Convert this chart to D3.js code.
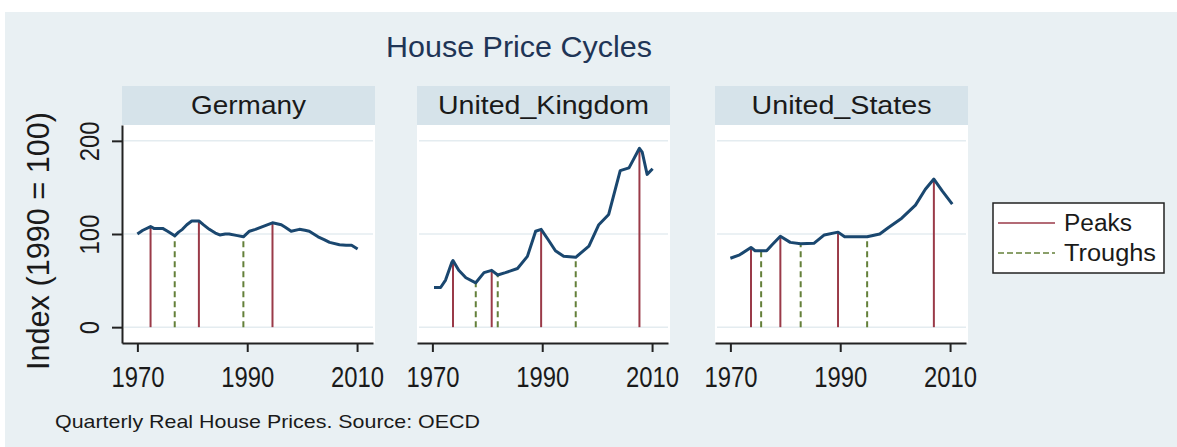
<!DOCTYPE html>
<html>
<head>
<meta charset="utf-8">
<script src="https://cdn.jsdelivr.net/npm/d3@7"></script>
<style>
body { margin: 0; background: #fff; }
text { font-family: "Liberation Sans", Arial, sans-serif; fill: #1a1a1a; }
</style>
</head>
<body>
<script>
// House price index, 1990 = 100
var countries = ["Germany", "United_Kingdom", "United_States"];

var deYears = [1970, 1971, 1972.4, 1973, 1974.6, 1975.5, 1976.8, 1977.5, 1978.2, 1979, 1979.9, 1981.2, 1982, 1983.1, 1984.2, 1985,
               1986, 1986.7, 1988, 1989.3, 1990.4, 1991.5, 1992.8, 1994.6, 1996.2, 1997, 1998, 1999.5, 2000.5, 2001.3, 2002.9,
               2004, 2005, 2006.8, 2008, 2009, 2010.1];
var deIndex = [100, 104, 108, 106, 106, 103, 98, 102, 105, 110, 114, 114, 110, 105, 101, 99,
               100, 100, 98.5, 97, 103, 105, 108, 112, 110, 107, 103, 105, 104, 103, 97,
               94, 91, 88.5, 88, 88, 84];

var ukYears = [1970.3, 1971.5, 1972.4, 1973.5, 1973.75, 1974.8, 1976.1, 1977.9, 1979.4, 1980.8, 1981.9, 1983.3, 1985.5,
               1987.3, 1988.8, 1989.8, 1991, 1992.4, 1993.9, 1996.1, 1998.5, 2000.3, 2002.1, 2003.3, 2004.2, 2005.8,
               2007.7, 2008.2, 2009.1, 2010.1];
var ukIndex = [42.6, 42.6, 50.5, 69, 71.5, 61, 53, 47.6, 58.5, 61, 56, 58.5, 63,
               76, 103, 105, 94.6, 82, 76, 75, 87, 110, 121, 148, 168, 171,
               192, 188, 164, 170];

var usYears = [1970, 1971.7, 1973.75, 1974.5, 1975.6, 1976.6, 1977.6, 1979.1, 1980.9, 1982.8, 1985.2, 1987.1, 1989.6,
               1990.8, 1994.9, 1997.2, 1998.8, 2001.2, 2003.7, 2005.5, 2007.05, 2008.6, 2010.4];
var usIndex = [74, 77.6, 85.6, 82, 82, 82, 88.4, 97.5, 91, 89.5, 90, 99, 102,
               97, 97, 100, 107, 117, 131, 148, 159, 146, 132];

var dePeaks = [1972.4, 1981.2, 1994.6];
var deTroughs = [1976.8, 1989.3];
var ukPeaks = [1973.75, 1980.8, 1989.8, 2007.7];
var ukTroughs = [1977.9, 1981.9, 1996.1];
var usPeaks = [1973.75, 1979.1, 1989.6, 2007.05];
var usTroughs = [1975.6, 1982.8, 1994.9];

var xTicks = [1970, 1990, 2010];
var yTicks = [0, 100, 200];

var panels = [
  { name: countries[0], years: deYears, values: deIndex, peaks: dePeaks, troughs: deTroughs },
  { name: countries[1], years: ukYears, values: ukIndex, peaks: ukPeaks, troughs: ukTroughs },
  { name: countries[2], years: usYears, values: usIndex, peaks: usPeaks, troughs: usTroughs }
];

// Settings
var w = 1177, h = 447;
var panelLeft = [122, 417, 715];
var plotW = 253, plotH = 218, plotTop = 125;
var stripTop = 86, stripH = 39;

var navy = "#1a476f", maroon = "#9a3a48", olive = "#64803a";

var svg = d3.select("body").append("svg")
  .attr("width", w)
  .attr("height", h);

// graph region
svg.append("rect")
  .attr("x", 5).attr("y", 12)
  .attr("width", w - 5).attr("height", h - 12)
  .attr("fill", "#e9f0f3");

svg.append("text")
  .attr("x", 519).attr("y", 57)
  .attr("text-anchor", "middle")
  .attr("font-size", 29)
  .attr("textLength", 266).attr("lengthAdjust", "spacingAndGlyphs")
  .style("fill", "#1f3556")
  .text("House Price Cycles");

var x = d3.scaleLinear().domain([1967.2, 2012.9]).range([0, 251]);
var y = d3.scaleLinear().domain([-17, 217]).range([plotH, 0]);

// value of a series at a given year (between read points)
function valueAt(p, yr) {
  var i = d3.bisectLeft(p.years, yr);
  if (i <= 0) return p.values[0];
  if (i >= p.years.length) return p.values[p.values.length - 1];
  var t = (yr - p.years[i - 1]) / (p.years[i] - p.years[i - 1]);
  return p.values[i - 1] + t * (p.values[i] - p.values[i - 1]);
}

var line = d3.line()
  .x(function(d) { return x(d[0]); })
  .y(function(d) { return y(d[1]); });

panels.forEach(function(p, k) {
  var left = panelLeft[k];

  // strip label
  svg.append("rect")
    .attr("x", left).attr("y", stripTop)
    .attr("width", plotW).attr("height", stripH)
    .attr("fill", "#d6e3ea");
  svg.append("text")
    .attr("x", left + plotW / 2).attr("y", stripTop + 28)
    .attr("text-anchor", "middle")
    .attr("font-size", 25)
    .attr("textLength", [115, 211, 180][k]).attr("lengthAdjust", "spacingAndGlyphs")
    .text(p.name);

  var g = svg.append("g").attr("transform", "translate(" + left + "," + plotTop + ")");

  g.append("rect")
    .attr("x", 0).attr("y", 0)
    .attr("width", plotW).attr("height", plotH)
    .attr("fill", "#fff");

  // grid
  g.selectAll("line.grid")
    .data(yTicks)
    .enter()
    .append("line")
    .attr("class", "grid")
    .attr("x1", 2).attr("x2", plotW - 2)
    .attr("y1", function(d) { return y(d); })
    .attr("y2", function(d) { return y(d); })
    .attr("stroke", "#e4ecf0")
    .attr("stroke-width", 1.5);

  // peaks & troughs
  g.selectAll("line.peak")
    .data(p.peaks)
    .enter()
    .append("line")
    .attr("class", "peak")
    .attr("x1", function(d) { return x(d); })
    .attr("x2", function(d) { return x(d); })
    .attr("y1", y(0))
    .attr("y2", function(d) { return y(valueAt(p, d)); })
    .attr("stroke", maroon)
    .attr("stroke-width", 2);

  g.selectAll("line.trough")
    .data(p.troughs)
    .enter()
    .append("line")
    .attr("class", "trough")
    .attr("x1", function(d) { return x(d); })
    .attr("x2", function(d) { return x(d); })
    .attr("y1", y(0))
    .attr("y2", function(d) { return y(valueAt(p, d)); })
    .attr("stroke", olive)
    .attr("stroke-width", 2)
    .attr("stroke-dasharray", "6,4");

  g.append("path")
    .datum(d3.zip(p.years, p.values))
    .attr("d", line)
    .attr("fill", "none")
    .attr("stroke", navy)
    .attr("stroke-width", 3)
    .attr("stroke-linejoin", "round");

  // x axis
  var xa = g.append("g")
    .attr("transform", "translate(0," + plotH + ")")
    .call(d3.axisBottom(x).tickValues(xTicks).tickFormat(d3.format("d")).tickSize(9).tickSizeOuter(0).tickPadding(14));
  xa.select(".domain").attr("stroke", "#222").attr("stroke-width", 2);
  xa.selectAll(".tick line").attr("stroke", "#222").attr("stroke-width", 2);
  xa.selectAll(".tick text")
    .attr("font-size", 29)
    .attr("dy", "0.71em")
    .attr("textLength", 53).attr("lengthAdjust", "spacingAndGlyphs")
    .style("fill", "#1a1a1a")
    .attr("font-family", null);
  xa.attr("font-family", null).attr("font-size", null);

  // y axis on first panel only
  if (k === 0) {
    var ya = g.append("g")
      .call(d3.axisLeft(y).tickValues(yTicks).tickSize(10).tickSizeOuter(0));
    ya.attr("font-family", null).attr("font-size", null);
    ya.select(".domain").attr("stroke", "#222").attr("stroke-width", 2);
    ya.selectAll(".tick line").attr("stroke", "#222").attr("stroke-width", 2);
    ya.selectAll(".tick text")
      .attr("x", null).attr("dy", null)
      .attr("text-anchor", "middle")
      .attr("transform", "translate(-23,0) rotate(-90)")
      .attr("font-size", 27)
      .attr("textLength", function(d) { return 13.3 * String(d).length; })
      .attr("lengthAdjust", "spacingAndGlyphs")
      .style("fill", "#1a1a1a");
  }
});

// y title
svg.append("text")
  .attr("transform", "translate(49,241) rotate(-90)")
  .attr("text-anchor", "middle")
  .attr("font-size", 31)
  .attr("textLength", 258).attr("lengthAdjust", "spacingAndGlyphs")
  .text("Index (1990 = 100)");

// legend
var legendItems = ["Peaks", "Troughs"];
var legend = svg.append("g").attr("transform", "translate(993,203)");
legend.append("rect")
  .attr("width", 171).attr("height", 70)
  .attr("fill", "#fff")
  .attr("stroke", "#222")
  .attr("stroke-width", 1.5);
legend.selectAll("line")
  .data(legendItems)
  .enter()
  .append("line")
  .attr("x1", 5).attr("x2", 62)
  .attr("y1", function(d, i) { return 20 + i * 30; })
  .attr("y2", function(d, i) { return 20 + i * 30; })
  .attr("stroke", function(d, i) { return i === 0 ? maroon : olive; })
  .attr("stroke-width", 1.5)
  .attr("stroke-dasharray", function(d, i) { return i === 0 ? null : "6,3"; });
legend.selectAll("text")
  .data(legendItems)
  .enter()
  .append("text")
  .attr("x", 71)
  .attr("y", function(d, i) { return 28 + i * 30; })
  .attr("font-size", 23)
  .attr("textLength", function(d, i) { return i === 0 ? 68 : 92; })
  .attr("lengthAdjust", "spacingAndGlyphs")
  .text(function(d) { return d; });

// note
svg.append("text")
  .attr("x", 55).attr("y", 428)
  .attr("font-size", 19)
  .attr("textLength", 425).attr("lengthAdjust", "spacingAndGlyphs")
  .text("Quarterly Real House Prices. Source: OECD");
</script>
</body>
</html>
